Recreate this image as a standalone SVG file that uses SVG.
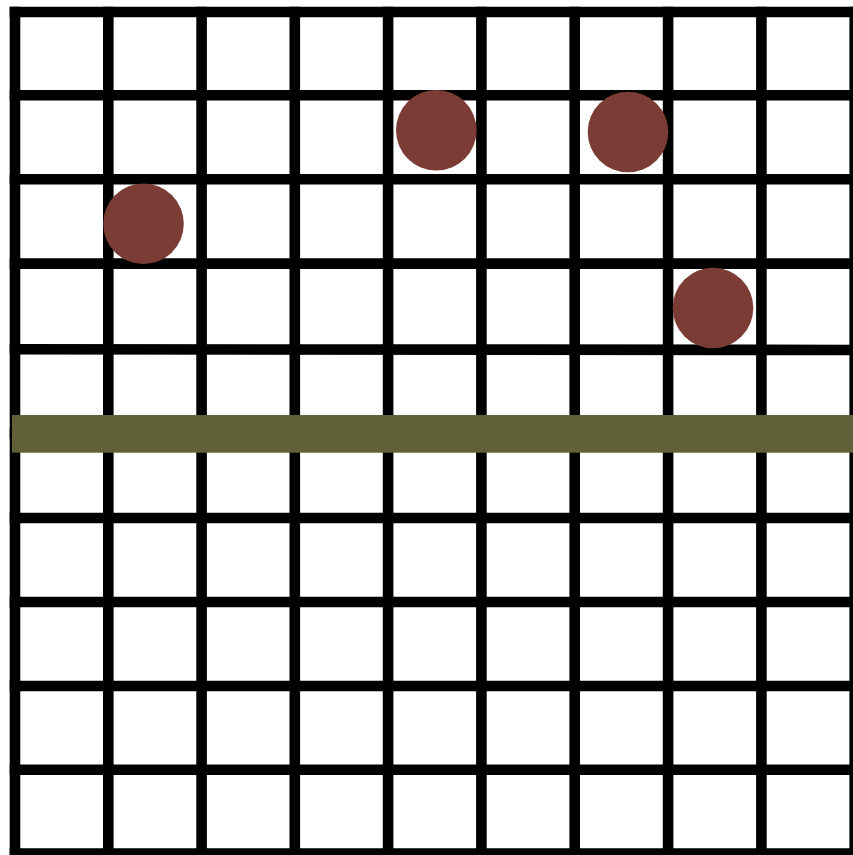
<svg xmlns="http://www.w3.org/2000/svg" width="853" height="855" viewBox="0 0 853 855">
<style>
.g{stroke:#000;stroke-width:10.6;fill:none;stroke-linecap:square}
.dot{fill:#7a3c35}
</style>
<rect width="853" height="855" fill="#fff"/>
<g id="grid" class="g">
<path d="M15,12V854 M108.3,12V854 M201.6,12V854 M294.8,12V854 M388.1,12V854 M481.4,12V854 M574.7,12V854 M668.1,12V854 M761.4,12V854 M854.7,12V854"/>
<path d="M15,12H855 M15,95.3H855 M15,179.3H855 M15,263.6H855 M15,349.2L855,350 M15,433.8H855 M15,518H855 M15,602H855 M15,686H855 M15,769.7H855 M15,853.6H855"/>
</g>
<rect id="band" x="12" y="415" width="841" height="37.7" fill="#606039"/>
<g id="dots">
<circle class="dot" cx="436.3" cy="130.3" r="40.3"/>
<circle class="dot" cx="628" cy="132" r="40.3"/>
<circle class="dot" cx="143.5" cy="223.8" r="40.3"/>
<circle class="dot" cx="713" cy="308" r="40.3"/>
</g>
</svg>
